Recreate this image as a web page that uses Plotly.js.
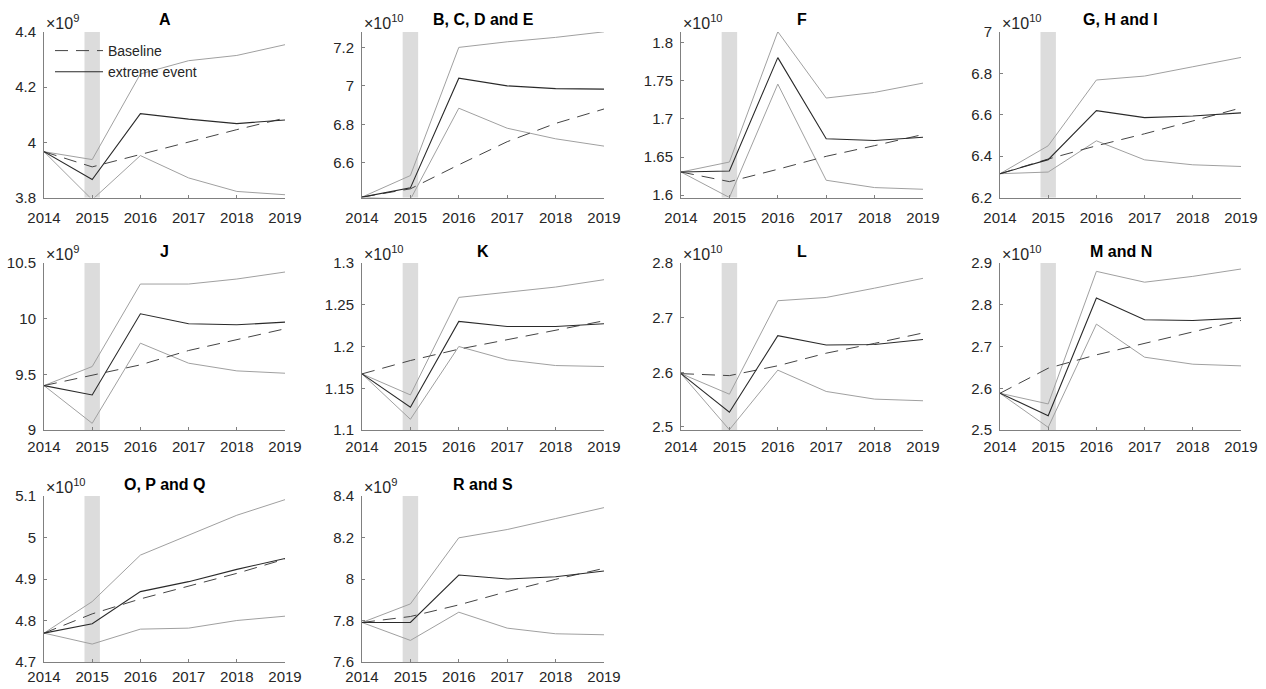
<!DOCTYPE html>
<html>
<head>
<meta charset="utf-8">
<script src="https://cdn.plot.ly/plotly-3.0.1.min.js"></script>
<style>
  html, body { margin: 0; padding: 0; background: #ffffff; }
  #chart { width: 1266px; height: 689px; }
</style>
</head>
<body>
<div id="chart"></div>
<script>
// ---------------- DATA ----------------
const years = [2014, 2015, 2016, 2017, 2018, 2019];
const yearLabels = ['2014', '2015', '2016', '2017', '2018', '2019'];
const panelTitles = ['A', 'B, C, D and E', 'F', 'G, H and I', 'J', 'K', 'L', 'M and N', 'O, P and Q', 'R and S'];
const exponents = [9, 10, 10, 10, 9, 10, 10, 10, 10, 9];
const eventPeriod = [2014.84, 2015.16];

// values are in units of 10^exponent for each panel
const baseline = [
  [3.966, 3.911, 3.956, 4.002, 4.046, 4.088],     // A
  [6.422, 6.465, 6.590, 6.710, 6.805, 6.880],     // B, C, D and E
  [1.6304, 1.6178, 1.634, 1.651, 1.665, 1.6796],  // F
  [6.315, 6.386, 6.450, 6.508, 6.570, 6.633],     // G, H and I
  [9.399, 9.489, 9.585, 9.714, 9.810, 9.909],     // J
  [1.1672, 1.1832, 1.1968, 1.208, 1.220, 1.2308], // K
  [2.5976, 2.594, 2.612, 2.635, 2.653, 2.672],    // L
  [2.588, 2.648, 2.680, 2.708, 2.736, 2.7624],    // M and N
  [4.7696, 4.816, 4.852, 4.8832, 4.9136, 4.948],  // O, P and Q
  [7.7904, 7.8192, 7.8752, 7.9392, 7.9984, 8.0512] // R and S
];
const extremeEvent = [
  [3.966, 3.865, 4.104, 4.084, 4.068, 4.081],
  [6.422, 6.470, 7.040, 7.000, 6.986, 6.983],
  [1.6304, 1.6317, 1.7804, 1.674, 1.6717, 1.676],
  [6.315, 6.383, 6.620, 6.586, 6.594, 6.609],
  [9.399, 9.315, 10.044, 9.954, 9.945, 9.969],
  [1.1672, 1.1272, 1.230, 1.224, 1.224, 1.2272],
  [2.5976, 2.527, 2.667, 2.650, 2.651, 2.660],
  [2.588, 2.5344, 2.816, 2.764, 2.7624, 2.768],
  [4.7696, 4.792, 4.8696, 4.8936, 4.9232, 4.9496],
  [7.7904, 7.7904, 8.0192, 8.000, 8.0112, 8.0384]
];
const upperBound = [
  [3.966, 3.9375, 4.248, 4.296, 4.315, 4.354],
  [6.422, 6.534, 7.200, 7.229, 7.252, 7.281],
  [1.6304, 1.6435, 1.8144, 1.7274, 1.7348, 1.747],
  [6.315, 6.450, 6.768, 6.787, 6.832, 6.877],
  [9.399, 9.570, 10.311, 10.311, 10.356, 10.419],
  [1.1672, 1.142, 1.2588, 1.2648, 1.2712, 1.280],
  [2.5976, 2.560, 2.731, 2.737, 2.754, 2.772],
  [2.588, 2.5624, 2.880, 2.854, 2.868, 2.8856],
  [4.7696, 4.8456, 4.9576, 5.0056, 5.0536, 5.0912],
  [7.7904, 7.880, 8.1984, 8.2384, 8.2912, 8.344]
];
const lowerBound = [
  [3.966, 3.792, 3.952, 3.871, 3.822, 3.810],
  [6.422, 6.410, 6.884, 6.780, 6.725, 6.687],
  [1.6304, 1.597, 1.7457, 1.6196, 1.610, 1.6078],
  [6.315, 6.323, 6.474, 6.382, 6.358, 6.350],
  [9.399, 9.060, 9.780, 9.600, 9.531, 9.510],
  [1.1672, 1.1128, 1.200, 1.184, 1.1772, 1.176],
  [2.5976, 2.495, 2.604, 2.565, 2.551, 2.548],
  [2.588, 2.5064, 2.7536, 2.6744, 2.6576, 2.6536],
  [4.7696, 4.7432, 4.7792, 4.7816, 4.800, 4.8104],
  [7.7904, 7.704, 7.840, 7.7632, 7.736, 7.7312]
];
const yRanges = [
  [3.8, 4.4], [6.42, 7.28], [1.597, 1.814], [6.2, 7.0], [9.0, 10.5],
  [1.1, 1.3], [2.4945, 2.8], [2.5, 2.9], [4.7, 5.1], [7.6, 8.4]
];
const yTickVals = [
  [3.8, 4.0, 4.2, 4.4],
  [6.6, 6.8, 7.0, 7.2],
  [1.6, 1.65, 1.7, 1.75, 1.8],
  [6.2, 6.4, 6.6, 6.8, 7.0],
  [9.0, 9.5, 10.0, 10.5],
  [1.1, 1.15, 1.2, 1.25, 1.3],
  [2.5, 2.6, 2.7, 2.8],
  [2.5, 2.6, 2.7, 2.8, 2.9],
  [4.7, 4.8, 4.9, 5.0, 5.1],
  [7.6, 7.8, 8.0, 8.2, 8.4]
];
const yTickText = [
  ['3.8', '4', '4.2', '4.4'],
  ['6.6', '6.8', '7', '7.2'],
  ['1.6', '1.65', '1.7', '1.75', '1.8'],
  ['6.2', '6.4', '6.6', '6.8', '7'],
  ['9', '9.5', '10', '10.5'],
  ['1.1', '1.15', '1.2', '1.25', '1.3'],
  ['2.5', '2.6', '2.7', '2.8'],
  ['2.5', '2.6', '2.7', '2.8', '2.9'],
  ['4.7', '4.8', '4.9', '5', '5.1'],
  ['7.6', '7.8', '8', '8.2', '8.4']
];

// ---------------- LAYOUT ----------------
const W = 1266, H = 689;
const colPx = [[44, 285], [362, 604], [681, 923], [1000, 1241]];
const rowPx = [[32, 197.5], [263, 430], [496, 662]];
const rowXStandoff = [6, 3, 1];
const FONT = '"Liberation Sans", Arial, Helvetica, sans-serif';
const axisColor = '#808080';
const boundColor = '#a0a0a0';
const baseColor = '#444444';
const eventColor = '#2a2a2a';

const traces = [];
const layout = {
  width: W, height: H,
  margin: {l: 0, r: 0, t: 0, b: 0},
  paper_bgcolor: '#ffffff', plot_bgcolor: 'rgba(0,0,0,0)',
  font: {family: FONT, size: 15, color: '#262626'},
  showlegend: true,
  legend: {
    x: 50 / W, y: 1 - 35 / H, xanchor: 'left', yanchor: 'top',
    bgcolor: 'rgba(0,0,0,0)', borderwidth: 0,
    font: {family: FONT, size: 14, color: '#262626'},
    tracegroupgap: 0, itemwidth: 48
  },
  annotations: [],
  shapes: []
};

for (let i = 0; i < panelTitles.length; i++) {
  const r = Math.floor(i / 4), c = i % 4;
  const n = i === 0 ? '' : String(i + 1);
  const xid = 'x' + n, yid = 'y' + n;
  const xd = [colPx[c][0] / W, colPx[c][1] / W];
  const yd = [1 - rowPx[r][1] / H, 1 - rowPx[r][0] / H];

  layout['xaxis' + n] = {
    domain: xd, anchor: yid, range: [2014, 2019],
    tickvals: years, ticktext: yearLabels,
    ticks: 'inside', ticklen: 3, tickcolor: axisColor, tickwidth: 1,
    showline: true, linecolor: axisColor, linewidth: 1,
    showgrid: false, zeroline: false,
    tickfont: {family: FONT, size: 15, color: '#262626'},
    ticklabelstandoff: rowXStandoff[r]
  };
  layout['yaxis' + n] = {
    domain: yd, anchor: xid, range: yRanges[i],
    tickvals: yTickVals[i], ticktext: yTickText[i],
    ticks: 'inside', ticklen: 3, tickcolor: axisColor, tickwidth: 1,
    showline: true, linecolor: axisColor, linewidth: 1,
    showgrid: false, zeroline: false,
    tickfont: {family: FONT, size: 15, color: '#262626'},
    ticklabelstandoff: 4
  };

  layout.shapes.push({
    type: 'rect', xref: xid, yref: yid + ' domain',
    x0: eventPeriod[0], x1: eventPeriod[1], y0: 0, y1: 1,
    fillcolor: '#dcdcdc', line: {width: 0}, layer: 'below'
  });

  traces.push({x: years, y: upperBound[i], xaxis: xid, yaxis: yid, type: 'scatter', mode: 'lines',
    line: {color: boundColor, width: 1}, showlegend: false, hoverinfo: 'skip'});
  traces.push({x: years, y: lowerBound[i], xaxis: xid, yaxis: yid, type: 'scatter', mode: 'lines',
    line: {color: boundColor, width: 1}, showlegend: false, hoverinfo: 'skip'});
  traces.push({x: years, y: baseline[i], xaxis: xid, yaxis: yid, type: 'scatter', mode: 'lines',
    name: 'Baseline', legendgroup: 'b', showlegend: i === 0,
    line: {color: baseColor, width: 1, dash: '13px,8px'}});
  traces.push({x: years, y: extremeEvent[i], xaxis: xid, yaxis: yid, type: 'scatter', mode: 'lines',
    name: 'extreme event', legendgroup: 'e', showlegend: i === 0,
    line: {color: eventColor, width: 1.1}});

  // panel title
  layout.annotations.push({
    xref: 'paper', yref: 'paper',
    x: (xd[0] + xd[1]) / 2, y: 1 - (rowPx[r][0] - 12) / H,
    xanchor: 'center', yanchor: 'middle', showarrow: false,
    text: '<b>' + panelTitles[i] + '</b>',
    font: {family: FONT, size: 16, color: '#000000'}
  });
  // exponent label
  layout.annotations.push({
    xref: 'paper', yref: 'paper',
    x: xd[0], y: yd[1], xanchor: 'left', yanchor: 'bottom', yshift: -2, showarrow: false,
    text: '\u00d710<sup>' + exponents[i] + '</sup>',
    font: {family: FONT, size: 16, color: '#262626'}
  });
}

Plotly.newPlot('chart', traces, layout, {displayModeBar: false, staticPlot: true});
</script>
</body>
</html>
